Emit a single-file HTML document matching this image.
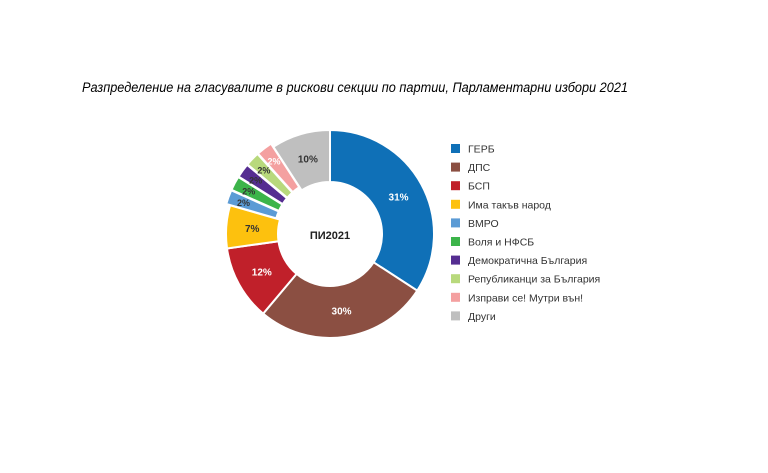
<!DOCTYPE html>
<html><head><meta charset="utf-8"><style>
body{margin:0;background:#fff;width:768px;height:473px;overflow:hidden}
svg{display:block}
</style></head><body>
<svg id="s" width="768" height="473" xmlns="http://www.w3.org/2000/svg" font-family="Liberation Sans, DejaVu Sans, sans-serif">
<text x="82" y="92" font-size="13.5" font-style="italic" fill="#000" textLength="546" lengthAdjust="spacingAndGlyphs">Разпределение на гласувалите в рискови секции по партии, Парламентарни избори 2021</text>
<g id="pie"></g>
<text x="330" y="239" text-anchor="middle" font-size="11" font-weight="bold" fill="#222">ПИ2021</text>
<g id="leg" font-size="10.5" fill="#333"></g>
</svg>
<script>
var cx=330,cy=234,R=104,r=52;
var a=[0,123,220,262,286,294,302,310,318,327,360];
var col=["#0f70b7","#8b4f42","#c0202a","#fdc10e","#5b9bd5","#3cb44a","#552d91","#b8d97c","#f4a0a0","#bfbfbf"];
var names=["ГЕРБ","ДПС","БСП","Има такъв народ","ВМРО","Воля и НФСБ","Демократична България","Републиканци за България","Изправи се! Мутри вън!","Други"];
var lab=["31%","30%","12%","7%","2%","2%","2%","2%","2%","10%"];
var lc=["#fff","#fff","#fff","#333","#333","#333","#333","#333","#fff","#333"];
var ns="http://www.w3.org/2000/svg",g=document.getElementById("pie"),L=document.getElementById("leg");
function p(ang,rad,ox,oy){var t=(ang-90)*Math.PI/180;return [ox+rad*Math.cos(t),oy+rad*Math.sin(t)];}
for(var i=0;i<10;i++){
 var a0=a[i],a1=a[i+1],m=(a0+a1)/2,off=(i>=4&&i<=8)?4:0;
 var o=p(m,off,cx,cy),ox=o[0],oy=o[1];
 var P1=p(a0,R,ox,oy),P2=p(a1,R,ox,oy),P3=p(a1,r,ox,oy),P4=p(a0,r,ox,oy);
 var big=(a1-a0)>180?1:0;
 var d="M"+P1+"A"+R+","+R+" 0 "+big+" 1 "+P2+"L"+P3+"A"+r+","+r+" 0 "+big+" 0 "+P4+"Z";
 var e=document.createElementNS(ns,"path");e.setAttribute("d",d);e.setAttribute("fill",col[i]);e.setAttribute("stroke","#fff");e.setAttribute("stroke-width","2");g.appendChild(e);
 var q=p(m,(R+r)/2+(off?10:0),ox,oy);
 var t=document.createElementNS(ns,"text");t.setAttribute("x",q[0]);t.setAttribute("y",q[1]+3.5);t.setAttribute("text-anchor","middle");t.setAttribute("font-size",off?"9":"10");t.setAttribute("font-weight","bold");t.setAttribute("fill",lc[i]);t.textContent=lab[i];g.appendChild(t);
 var y=144+i*18.6;
 var rc=document.createElementNS(ns,"rect");rc.setAttribute("x",451);rc.setAttribute("y",y);rc.setAttribute("width",9);rc.setAttribute("height",9);rc.setAttribute("fill",col[i]);L.appendChild(rc);
 var tt=document.createElementNS(ns,"text");tt.setAttribute("x",468);tt.setAttribute("y",y+8.5);tt.textContent=names[i];L.appendChild(tt);
}
</script>
</body></html>
